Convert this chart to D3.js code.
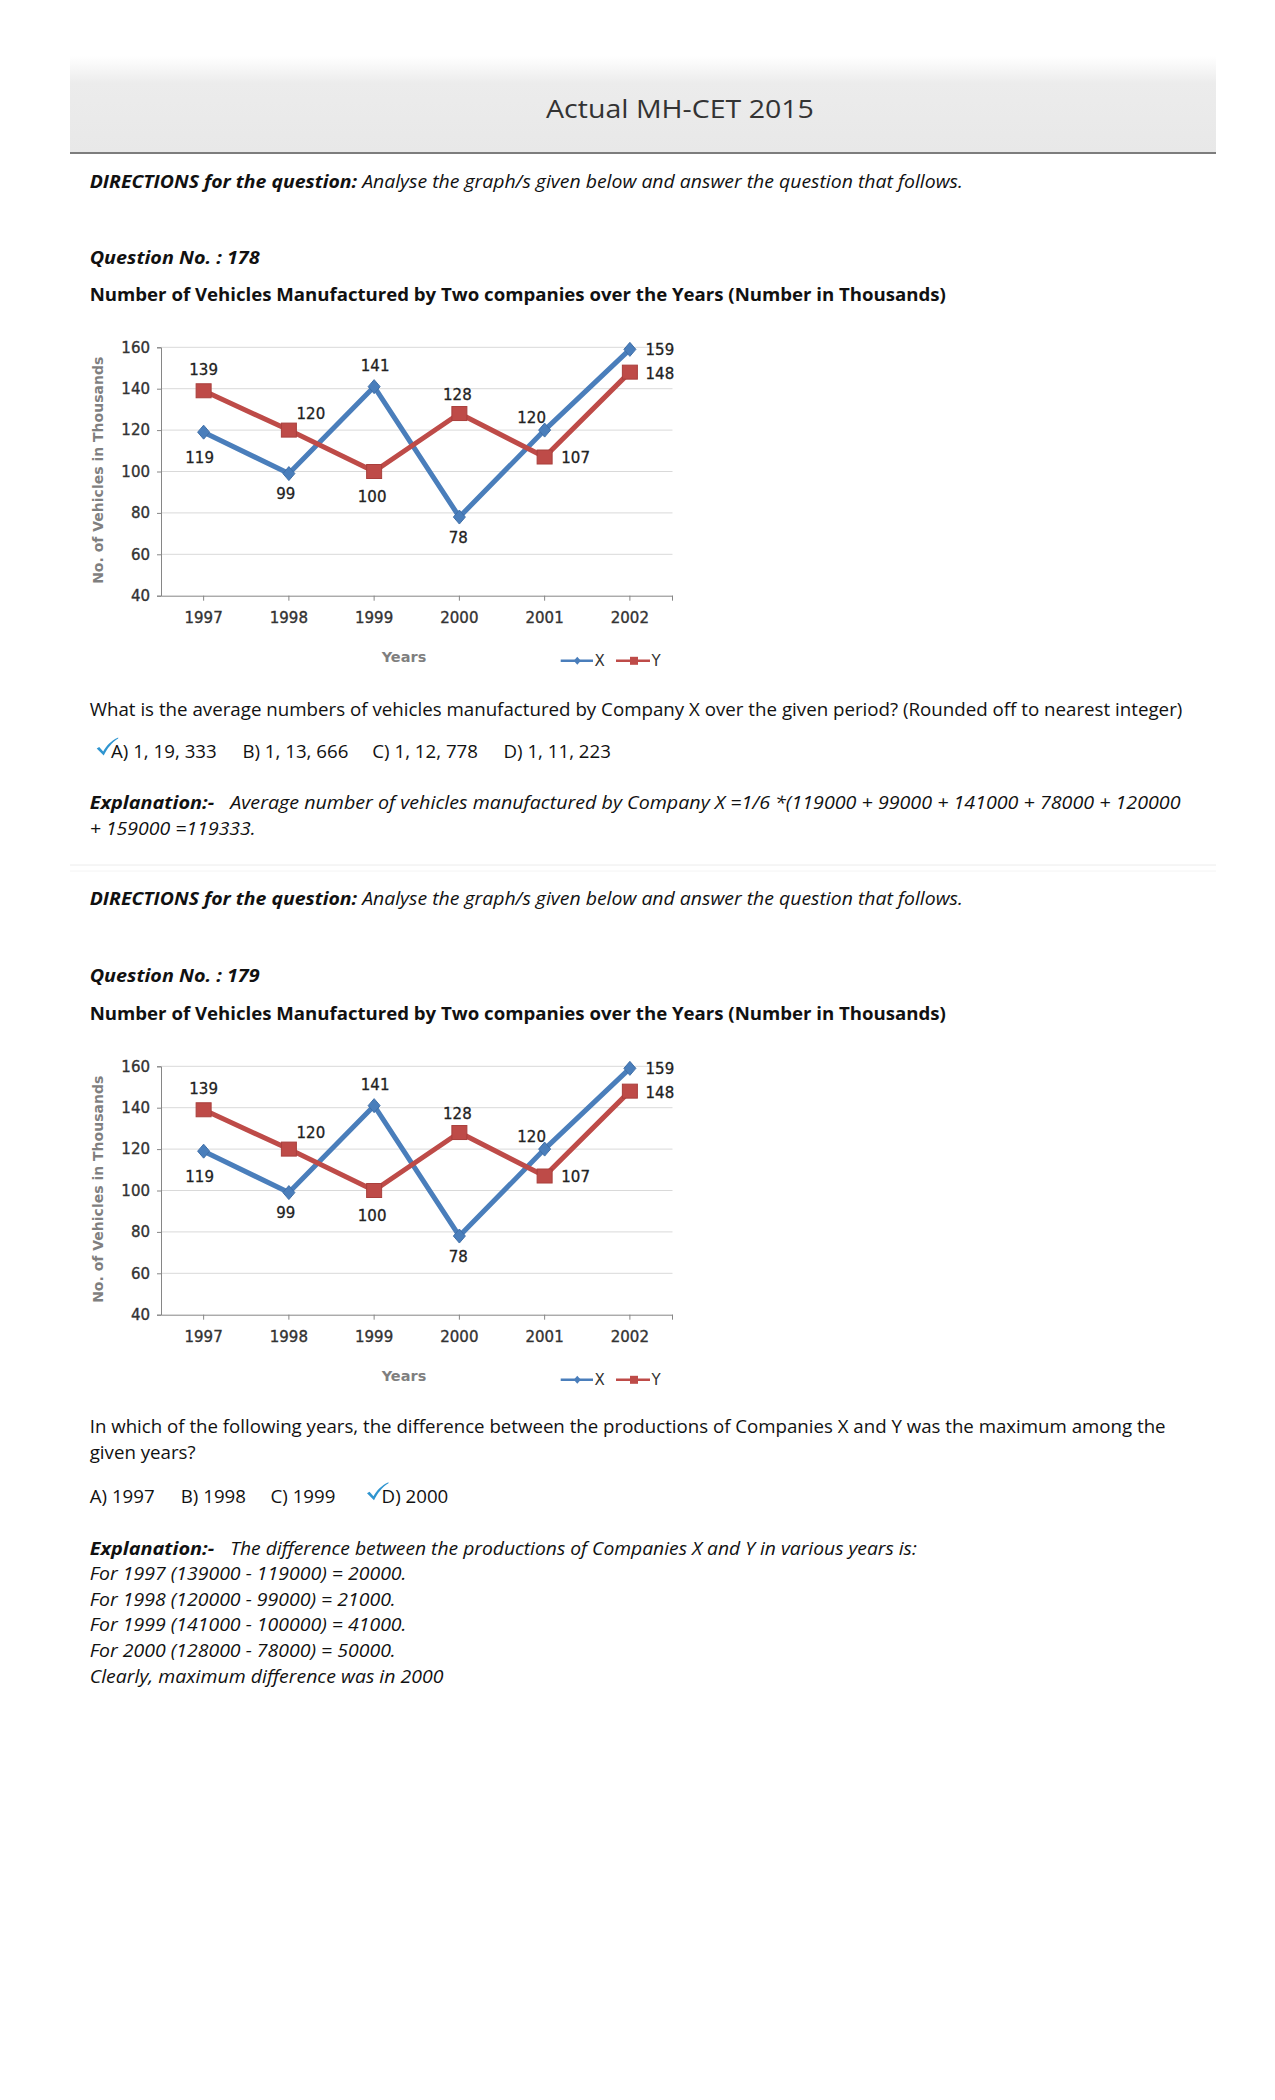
<!DOCTYPE html>
<html>
<head>
<meta charset="utf-8">
<script src="https://cdn.jsdelivr.net/npm/d3@7"></script>
<style>
  html, body { margin: 0; padding: 0; background: #fff; }
  svg { display: block; }
</style>
</head>
<body>
<div id="page"></div>
<script>
// ---------------- DATA ----------------
const years = ["1997", "1998", "1999", "2000", "2001", "2002"];
const seriesX = [119, 99, 141, 78, 120, 159];
const seriesY = [139, 120, 100, 128, 107, 148];
const yTicks = [40, 60, 80, 100, 120, 140, 160];
const seriesNames = ["X", "Y"];

// label placement (offsets from each point, px) – styling only
const labelOffX = [[-4, 25], [-3, 20], [1, -21], [-1, 20], [-13, -13], [30, 0]];
const labelOffY = [[0, -21], [22, -17], [-2, 25], [-2, -19], [31, 0], [30, 1]];

// ---------------- PAGE ----------------
const W = 1275, H = 2100;
const svg = d3.select("#page").append("svg").attr("width", W).attr("height", H);
const defs = svg.append("defs");
const grad = defs.append("linearGradient").attr("id", "hdr").attr("x1", 0).attr("y1", 0).attr("x2", 0).attr("y2", 1);
grad.append("stop").attr("offset", "0%").attr("stop-color", "#ffffff");
grad.append("stop").attr("offset", "28%").attr("stop-color", "#ececec");
grad.append("stop").attr("offset", "100%").attr("stop-color", "#e8e8e8");

// header
svg.append("rect").attr("x", 70).attr("y", 56).attr("width", 1146).attr("height", 97).attr("fill", "url(#hdr)");
svg.append("line").attr("x1", 70).attr("x2", 1216).attr("y1", 153).attr("y2", 153).attr("stroke", "#7d7d7d").attr("stroke-width", 2);
const hdrG = svg.append("g");
const hdrT = hdrG.append("text").attr("font-family", "'Open Sans', sans-serif").attr("font-size", 25)
  .attr("fill", "#333").attr("text-anchor", "middle").text("Actual MH-CET 2015");
{
  const w = hdrT.node().getComputedTextLength();
  hdrG.attr("transform", `translate(680,118) scale(${268 / w},1)`);
}

// separator
svg.append("line").attr("x1", 70).attr("x2", 1216).attr("y1", 865).attr("y2", 865).attr("stroke", "#ececec").attr("stroke-width", 1);
svg.append("line").attr("x1", 70).attr("x2", 1216).attr("y1", 871).attr("y2", 871).attr("stroke", "#f4f4f4").attr("stroke-width", 1);

// ---------------- TEXT LINES ----------------
const FONT = "'Open Sans', 'Segoe UI', sans-serif";
const lines = [];
// style: r = regular, i = italic, bi = bold italic, b = bold, m = mixed; target = known width in reference
function addLine(x, y, parts, style, target) {
  const g = svg.append("g");
  const t = g.append("text").attr("font-family", FONT).attr("font-size", 18).attr("fill", "#111");
  parts.forEach(p => {
    t.append("tspan").attr("font-weight", p.b ? "bold" : "normal")
      .attr("font-style", p.i ? "italic" : "normal").text(p.t);
  });
  lines.push({ g, t, x, y, style, target });
  return t;
}

// Q178
addLine(89.7, 187.5, [{ t: "DIRECTIONS for the question:", b: 1, i: 1 }, { t: " Analyse the graph/s given below and answer the question that follows.", i: 1 }], "m", 874);
addLine(89.7, 263.5, [{ t: "Question No. : 178", b: 1, i: 1 }], "bi", 170);
addLine(89.7, 300.5, [{ t: "Number of Vehicles Manufactured by Two companies over the Years (Number in Thousands)", b: 1 }], "b", 857);
addLine(89.7, 716, [{ t: "What is the average numbers of vehicles manufactured by Company X over the given period? (Rounded off to nearest integer)" }], "r", 1093);
addLine(111, 758, [{ t: "A) 1, 19, 333" }], "r");
addLine(242.4, 758, [{ t: "B) 1, 13, 666" }], "r");
addLine(372.3, 758, [{ t: "C) 1, 12, 778" }], "r");
addLine(503.5, 758, [{ t: "D) 1, 11, 223" }], "r");
addLine(89.7, 809, [{ t: "Explanation:-", b: 1, i: 1 }], "bi", 124.5);
addLine(230.3, 809, [{ t: "Average number of vehicles manufactured by Company X =1/6 *(119000 + 99000 + 141000 + 78000 + 120000", i: 1 }], "i", 950.7);
addLine(89.7, 834.5, [{ t: "+ 159000 =119333.", i: 1 }], "i");

// Q179
addLine(89.7, 905, [{ t: "DIRECTIONS for the question:", b: 1, i: 1 }, { t: " Analyse the graph/s given below and answer the question that follows.", i: 1 }], "m", 874);
addLine(89.7, 981.5, [{ t: "Question No. : 179", b: 1, i: 1 }], "bi", 170);
addLine(89.7, 1020, [{ t: "Number of Vehicles Manufactured by Two companies over the Years (Number in Thousands)", b: 1 }], "b", 857);
addLine(89.7, 1433, [{ t: "In which of the following years, the difference between the productions of Companies X and Y was the maximum among the" }], "r", 1076.6);
addLine(89.7, 1458.5, [{ t: "given years?" }], "r");
addLine(89.7, 1502.5, [{ t: "A) 1997" }], "r");
addLine(180.8, 1502.5, [{ t: "B) 1998" }], "r");
addLine(270.5, 1502.5, [{ t: "C) 1999" }], "r");
addLine(381.6, 1502.5, [{ t: "D) 2000" }], "r");
addLine(89.7, 1555, [{ t: "Explanation:-", b: 1, i: 1 }], "bi", 124.5);
addLine(230.3, 1555, [{ t: "The difference between the productions of Companies X and Y in various years is:", i: 1 }], "i", 687);
addLine(89.7, 1580, [{ t: "For 1997 (139000 - 119000) = 20000.", i: 1 }], "i");
addLine(89.7, 1605.5, [{ t: "For 1998 (120000 - 99000) = 21000.", i: 1 }], "i");
addLine(89.7, 1631, [{ t: "For 1999 (141000 - 100000) = 41000.", i: 1 }], "i");
addLine(89.7, 1656.5, [{ t: "For 2000 (128000 - 78000) = 50000.", i: 1 }], "i");
addLine(89.7, 1682.5, [{ t: "Clearly, maximum difference was in 2000", i: 1 }], "i");

// per-style ratios from lines with known widths
const ratios = {};
["r", "i", "bi", "b", "m"].forEach(s => {
  const ref = lines.filter(l => l.style === s && l.target);
  if (ref.length) ratios[s] = d3.mean(ref, l => l.target / l.t.node().getComputedTextLength());
});
lines.forEach(l => {
  const r = l.target ? l.target / l.t.node().getComputedTextLength() : (ratios[l.style] || 1);
  l.g.attr("transform", `translate(${l.x},${l.y}) scale(${r},1)`);
});

// check marks
function check(x, y) {
  svg.append("path")
    .attr("d", `M${x},${y + 10} L${x + 2.5},${y + 8.5} L${x + 6.5},${y + 13} C${x + 10},${y + 7} ${x + 14},${y + 2.5} ${x + 21.5},${y - 1} L${x + 21.5},${y} C${x + 15},${y + 4} ${x + 10.5},${y + 10} ${x + 7},${y + 17} Z`)
    .attr("fill", "#2f95d0");
}
check(96.7, 738.5);
check(367, 1483.2);

// ---------------- CHARTS ----------------
const blue = "#4a7ebb", red = "#be4b48";
const CF = "'DejaVu Sans', Verdana, sans-serif";

function drawChart(top) {
  const g = svg.append("g");
  const x = d3.scaleBand().domain(years).range([161, 672.5]);
  const y = d3.scaleLinear().domain([40, 160]).range([top + 248.4, top]);
  const cx = d => x(d) + x.bandwidth() / 2;

  // gridlines
  g.append("g").selectAll("line").data(yTicks.filter(v => v > 40)).join("line")
    .attr("x1", 161).attr("x2", 672.5).attr("y1", d => y(d)).attr("y2", d => y(d))
    .attr("stroke", "#d9d9d9").attr("stroke-width", 1);

  // y axis
  const ya = g.append("g").attr("transform", "translate(161,0)")
    .call(d3.axisLeft(y).tickValues(yTicks).tickSize(4).tickPadding(7));
  ya.select(".domain").attr("stroke", "#868686");
  ya.selectAll(".tick line").attr("stroke", "#868686");
  ya.selectAll(".tick text").attr("font-family", CF).attr("font-size", 15).attr("fill", "#333")
    .attr("stroke", "#333").attr("stroke-width", 0.35);

  // x axis
  const xa = g.append("g").attr("transform", `translate(0,${y(40)})`)
    .call(d3.axisBottom(x).tickSize(5).tickSizeOuter(0).tickPadding(12));
  xa.select(".domain").attr("stroke", "#868686");
  xa.selectAll(".tick line").attr("stroke", "#868686");
  xa.selectAll(".tick text").attr("font-family", CF).attr("font-size", 15).attr("fill", "#333")
    .attr("stroke", "#333").attr("stroke-width", 0.35);
  xa.append("line").attr("x1", 672.5).attr("x2", 672.5).attr("y1", 0).attr("y2", 5).attr("stroke", "#868686");

  // axis titles
  g.append("text").attr("transform", `translate(98,${top + 123}) rotate(-90)`)
    .attr("text-anchor", "middle").attr("dominant-baseline", "central")
    .attr("font-family", CF).attr("font-weight", "bold").attr("font-size", 14).attr("fill", "#7f7f7f")
    .text("No. of Vehicles in Thousands");
  g.append("text").attr("x", 404).attr("y", top + 315).attr("text-anchor", "middle")
    .attr("font-family", CF).attr("font-weight", "bold").attr("font-size", 14.5).attr("fill", "#7f7f7f")
    .text("Years");

  const line = d3.line().x((d, i) => cx(years[i])).y(d => y(d));

  // series X
  g.append("path").datum(seriesX).attr("d", line).attr("fill", "none").attr("stroke", blue)
    .attr("stroke-width", 5).attr("stroke-linejoin", "round");
  // series Y
  g.append("path").datum(seriesY).attr("d", line).attr("fill", "none").attr("stroke", red)
    .attr("stroke-width", 5).attr("stroke-linejoin", "round");

  // markers X (diamonds)
  g.append("g").selectAll("path").data(seriesX).join("path")
    .attr("transform", (d, i) => `translate(${cx(years[i])},${y(d)})`)
    .attr("d", "M0,-7 L6,0 L0,7 L-6,0 Z").attr("fill", blue).attr("stroke", "#3f6fa8").attr("stroke-width", 1);
  // markers Y (squares)
  g.append("g").selectAll("rect").data(seriesY).join("rect")
    .attr("x", (d, i) => cx(years[i]) - 7.5).attr("y", d => y(d) - 7)
    .attr("width", 15).attr("height", 14).attr("fill", red).attr("stroke", "#a93f3c").attr("stroke-width", 1);

  // data labels
  const lab = (data, offs) => g.append("g").selectAll("text").data(data).join("text")
    .attr("x", (d, i) => cx(years[i]) + offs[i][0])
    .attr("y", (d, i) => y(d) + offs[i][1] + 5.5)
    .attr("text-anchor", "middle").attr("font-family", CF).attr("font-size", 15).attr("fill", "#222")
    .attr("stroke", "#222").attr("stroke-width", 0.3)
    .text(d => d);
  lab(seriesX, labelOffX);
  lab(seriesY, labelOffY);

  // legend
  const ly = top + 313.5;
  const leg = g.append("g");
  const items = [
    { name: seriesNames[0], c: blue, x0: 560.7, x1: 593, mx: 577.3, tx: 594.5, m: "d" },
    { name: seriesNames[1], c: red, x0: 616, x1: 650, mx: 634, tx: 651.5, m: "s" }
  ];
  items.forEach(it => {
    leg.append("line").attr("x1", it.x0).attr("x2", it.x1).attr("y1", ly).attr("y2", ly)
      .attr("stroke", it.c).attr("stroke-width", 2.5);
    if (it.m === "d") leg.append("path").attr("transform", `translate(${it.mx},${ly})`).attr("d", "M0,-4 L3.5,0 L0,4 L-3.5,0 Z").attr("fill", it.c);
    else leg.append("rect").attr("x", it.mx - 4).attr("y", ly - 4).attr("width", 8).attr("height", 8).attr("fill", it.c);
    leg.append("text").attr("x", it.tx).attr("y", ly + 5.5).attr("font-family", CF).attr("font-size", 15)
      .attr("fill", "#333").text(it.name);
  });
}

drawChart(347.3);
drawChart(1066.3);
</script>
</body>
</html>
